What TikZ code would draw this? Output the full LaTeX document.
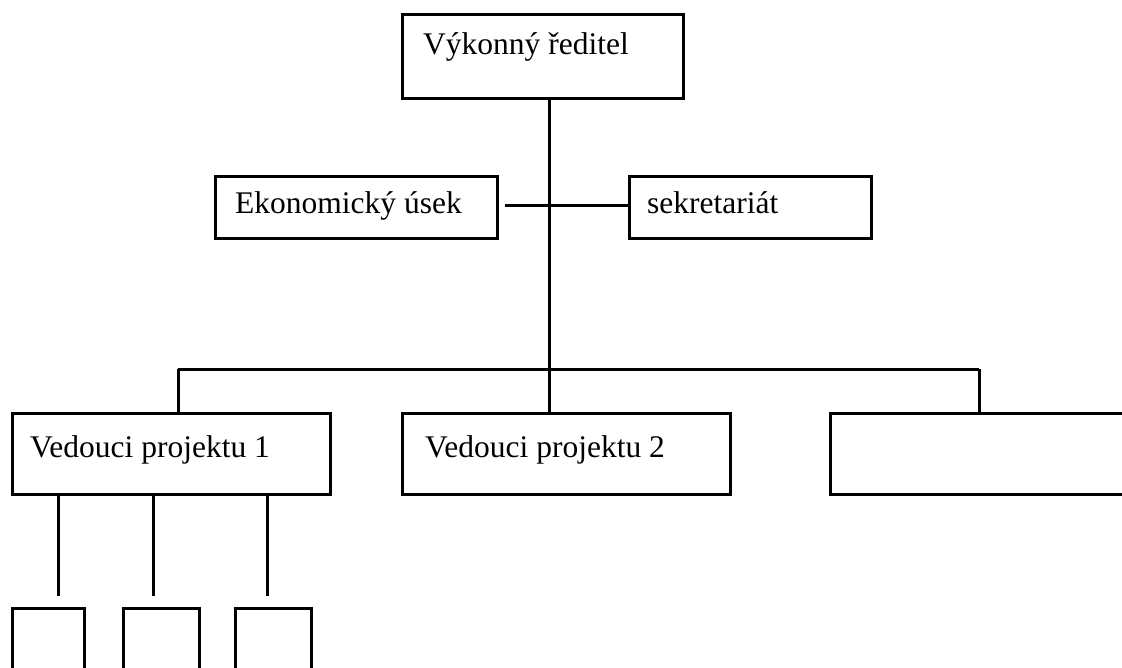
\documentclass[tikz,border=0pt]{standalone}
\usepackage{fontspec}
\setmainfont{Liberation Serif}
\begin{document}
\begin{tikzpicture}[x=1pt,y=-1pt,
  box/.style={draw=black, line width=3pt, rectangle, inner sep=0pt, anchor=north west},
  lbl/.style={anchor=base west, inner sep=0pt, font=\fontsize{31.5}{38}\selectfont},
  wire/.style={draw=black, line width=3pt}]
\useasboundingbox (0,0) rectangle (1122,667);
\clip (0,0) rectangle (1122,667);

% top level
\node[box, minimum width=281pt, minimum height=84pt] (vr) at (401,13) {};
\node[lbl] (tvr) at (423,54) {Výkonný ředitel};

% staff units
\node[box, minimum width=282pt, minimum height=62pt] (eko) at (214,175) {};
\node[lbl] (teko) at (235,213) {Ekonomický úsek};
\node[box, minimum width=242pt, minimum height=62pt] (sek) at (628,175) {};
\node[lbl] (tsek) at (647,213) {sekretariát};

% project leaders
\node[box, minimum width=318pt, minimum height=81pt] (vp1) at (11,412) {};
\node[lbl] (tvp1) at (30,457) {Vedouci projektu 1};
\node[box, minimum width=328pt, minimum height=81pt] (vp2) at (401,412) {};
\node[lbl] (tvp2) at (425,457) {Vedouci projektu 2};
\node[box, minimum width=320pt, minimum height=81pt] (vp3) at (829,412) {};

% team members (open towards the bottom edge)
\node[box, minimum width=72pt, minimum height=90pt] (c1) at (11,607) {};
\node[box, minimum width=76pt, minimum height=90pt] (c2) at (122,607) {};
\node[box, minimum width=76pt, minimum height=90pt] (c3) at (234,607) {};

% connectors
\coordinate (j) at (549,205);
\coordinate (bus) at (549,369);
\draw[wire] (vr.south -| j) -- (bus);
\draw[wire] ([xshift=6pt]eko.east |- j) -- (sek.west |- j);
\draw[wire] (178,369) coordinate (bl) -- (979,369) coordinate (br);
\draw[wire] (bl) -- (bl |- vp1.north);
\draw[wire] (bus) -- (bus |- vp2.north);
\draw[wire] (br) -- (br |- vp3.north);

\coordinate (d1) at (58,596);
\coordinate (d2) at (153,596);
\coordinate (d3) at (267,596);
\draw[wire] (d1 |- vp1.south) -- (d1);
\draw[wire] (d2 |- vp1.south) -- (d2);
\draw[wire] (d3 |- vp1.south) -- (d3);
\end{tikzpicture}
\end{document}
